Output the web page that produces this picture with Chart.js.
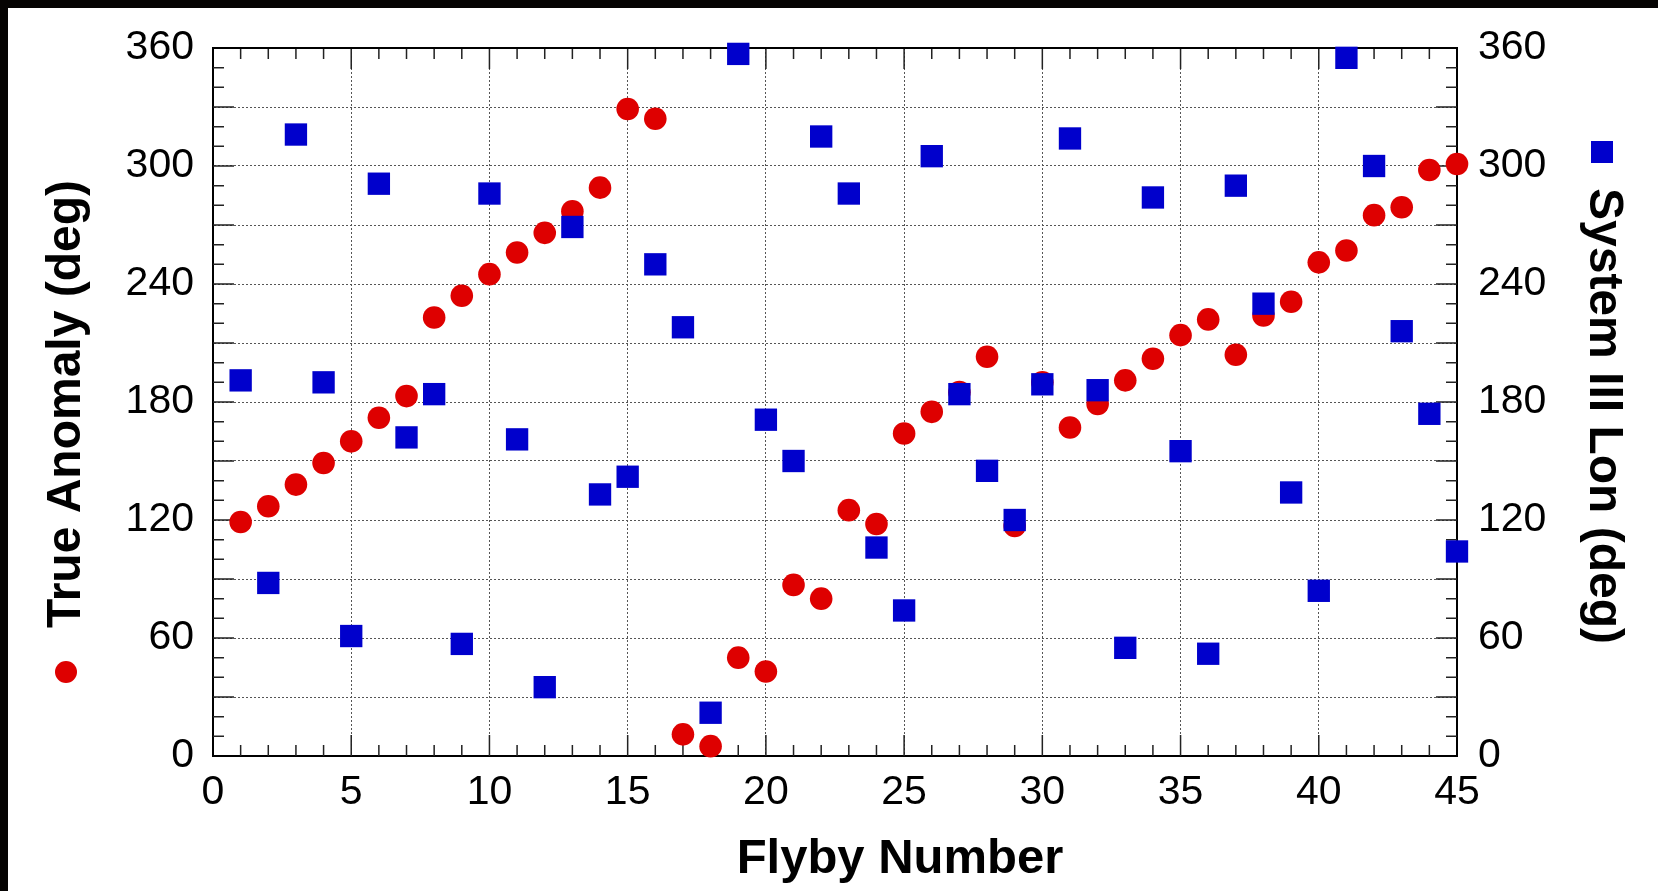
<!DOCTYPE html>
<html>
<head>
<meta charset="utf-8">
<script src="https://cdn.jsdelivr.net/npm/chart.js@4/dist/chart.umd.min.js"></script>
<style>
  body { margin: 0; background: #fff; }
  canvas { display: block; }
</style>
</head>
<body>
<canvas id="flybyChart" width="1658" height="891"></canvas>
<script>
// flyby numbers (x)
const flybys = [1,2,3,4,5,6,7,8,9,10,11,12,13,14,15,16,17,18,19,20,21,22,23,
  24,25,26,27,28,29,30,31,32,33,34,35,36,37,38,39,40,41,42,43,44,45];
// red circles, left axis
const trueAnomaly = [119,127,138,149,160,172,183,223,234,245,256,266,277,289,329,324,11,5,
  50,43,87,80,125,118,164,175,185,203,117,190,167,179,191,202,214,222,204,224,231,251,257,275,279,298,301];
// blue squares, right axis
const systemIIILon = [191,88,316,190,61,291,162,184,57,286,161,35,269,133,142,250,218,22,
  357,171,150,315,286,106,74,305,184,145,120,189,314,186,55,284,155,52,290,230,134,84,355,300,216,174,104];
// tick label sets
const xTicks = [0,5,10,15,20,25,30,35,40,45];
const yTicks = [0,60,120,180,240,300,360];

const RED = 'rgb(222,0,0)';
const BLUE = 'rgb(0,0,204)';
const FONT = "'Liberation Sans', Arial, Helvetica, sans-serif";

Chart.defaults.font.family = FONT;
Chart.defaults.color = '#000';

function toPoints(xs, ys) {
  return xs.map((v, i) => ({x: v, y: ys[i]}));
}

//frame, inward ticks and the axis titles with their markers
const decorations = {
  id: 'decorations',
  beforeDraw(chart) {
    const c = chart.ctx;
    c.save();
    c.fillStyle = '#060403';
    c.fillRect(0, 0, chart.width, chart.height);
    c.fillStyle = '#fff';
    c.fillRect(8, 8, chart.width - 8, chart.height - 8);
    c.restore();
  },
  beforeDatasetsDraw(chart) {
    const c = chart.ctx, a = chart.chartArea, x = chart.scales.x, y = chart.scales.y;
    c.save();
    c.strokeStyle = '#222';
    c.lineWidth = 1.5;
    c.beginPath();
    for (let v = x.min + 1; v < x.max; v++) {
      const px = x.getPixelForValue(v);
      const len = v % 5 === 0 ? 21 : 11;
      c.moveTo(px, a.bottom); c.lineTo(px, a.bottom - len);
      c.moveTo(px, a.top); c.lineTo(px, a.top + len);
    }
    for (let v = y.min + 10; v < y.max; v += 10) {
      const py = y.getPixelForValue(v);
      const len = v % 30 === 0 ? 21 : 11;
      c.moveTo(a.left, py); c.lineTo(a.left + len, py);
      c.moveTo(a.right, py); c.lineTo(a.right - len, py);
    }
    c.stroke();
    c.strokeStyle = '#000';
    c.lineWidth = 2;
    c.beginPath();
    c.moveTo(a.left - 1, a.top); c.lineTo(a.right + 1, a.top);
    c.stroke();
    c.restore();
  },
  afterDraw(chart) {
    const c = chart.ctx;
    c.save();
    c.fillStyle = '#000';
    c.textAlign = 'center';
    // x title
    c.font = 'bold 49px ' + FONT;
    c.textBaseline = 'alphabetic';
    c.fillText('Flyby Number', 900, 873);
    c.font = 'bold 48px ' + FONT;
    c.textBaseline = 'middle';
    // left title
    c.save();
    c.translate(67, 404);
    c.rotate(-Math.PI / 2);
    c.fillText('True Anomaly (deg)', 0, 0);
    c.restore();
    // right title
    c.save();
    c.translate(1603, 416);
    c.rotate(Math.PI / 2);
    c.fillText('System III Lon (deg)', 0, 0);
    c.restore();
    // markers
    c.fillStyle = RED;
    c.beginPath();
    c.arc(66, 672, 11, 0, Math.PI * 2);
    c.fill();
    c.fillStyle = BLUE;
    c.fillRect(1591, 141, 22, 22);
    c.restore();
  }
};

const gridStyle = {color: '#555', lineWidth: 1, drawTicks: false};
const borderStyle = {color: '#000', width: 2, dash: [2, 2]};

const chart = new Chart(document.getElementById('flybyChart').getContext('2d'), {
  type: 'scatter',
  data: {
    datasets: [{
      label: 'System III Lon (deg)',
      data: toPoints(flybys, systemIIILon),
      yAxisID: 'y2',
      pointStyle: 'rect',
      pointRadius: 15.8,
      pointBackgroundColor: BLUE,
      pointBorderWidth: 0,
      order: 0,
      clip: false
    }, {
      label: 'True Anomaly (deg)',
      data: toPoints(flybys, trueAnomaly),
      yAxisID: 'y',
      pointStyle: 'circle',
      pointRadius: 11.3,
      pointBackgroundColor: RED,
      pointBorderWidth: 0,
      order: 1,
      clip: false
    }]
  },
  plugins: [decorations],
  options: {
    responsive: false,
    animation: false,
    layout: {padding: {top: 48, left: 0, right: 0, bottom: 0}},
    plugins: {legend: {display: false}, tooltip: {enabled: false}},
    scales: {
      x: {
        type: 'linear',
        position: 'bottom',
        min: xTicks[0],
        max: xTicks[xTicks.length - 1],
        grid: gridStyle,
        border: borderStyle,
        afterBuildTicks: (s) => { s.ticks = xTicks.map(v => ({value: v})); },
        afterFit: (s) => { s.height = 135; },
        ticks: {font: {size: 41}, padding: 12, maxRotation: 0, autoSkip: false}
      },
      y: {
        position: 'left',
        min: 0,
        max: 360,
        grid: gridStyle,
        border: borderStyle,
        afterBuildTicks: (s) => {
          const t = [];
          for (let v = s.min; v <= s.max; v += 30) t.push({value: v});
          s.ticks = t;
        },
        afterFit: (s) => { s.width = 213; },
        ticks: {
          font: {size: 41}, padding: 19, autoSkip: false,
          callback: (v) => yTicks.includes(v) ? v : ''
        }
      },
      y2: {
        position: 'right',
        min: 0,
        max: 360,
        grid: {drawOnChartArea: false, drawTicks: false},
        border: {color: '#000', width: 2},
        afterBuildTicks: (s) => { s.ticks = yTicks.map(v => ({value: v})); },
        afterFit: (s) => { s.width = 201; },
        ticks: {font: {size: 41}, padding: 21, autoSkip: false}
      }
    }
  }
});
</script>
</body>
</html>
